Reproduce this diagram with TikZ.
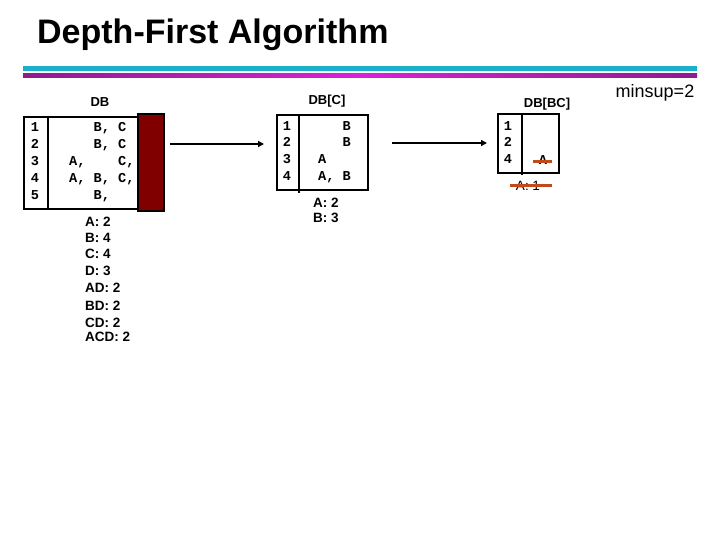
\documentclass[tikz,border=0pt]{standalone}
\usepackage{fontspec}
\setmainfont{Liberation Sans}
\newfontfamily\monob{Liberation Mono}[BoldFont=* Bold]
\usetikzlibrary{arrows.meta}
\definecolor{cyanbar}{HTML}{1CAFCB}
\definecolor{purpbar}{HTML}{8E1C8E}
\definecolor{magbar}{HTML}{D822D8}
\definecolor{darkred}{HTML}{800000}
\definecolor{strike}{HTML}{C24A1A}
\tikzset{
  box/.style={draw=black, line width=1.7pt, anchor=north west, inner sep=0pt},
  mono/.style={font=\monob\bfseries\fontsize{13.6}{14}\selectfont, inner sep=0pt, anchor=base west},
  num/.style={font=\monob\bfseries\fontsize{13.6}{14}\selectfont, inner sep=0pt, anchor=base},
  lbl/.style={font=\bfseries\fontsize{13}{14}\selectfont, inner sep=0pt},
  cnt/.style={font=\bfseries\fontsize{13.5}{14}\selectfont, inner sep=0pt, anchor=west},
  arr/.style={line width=1.8pt, -{Triangle[length=6pt,width=6pt]}},
  strikebar/.style={draw=strike, line width=3pt},
}
\begin{document}
\begin{tikzpicture}[x=1pt,y=-1pt]
\useasboundingbox (0,0) rectangle (720,540);
% title
\node[font=\bfseries\fontsize{34}{34}\selectfont, anchor=base west, inner sep=0pt] (title) at (37,44) {Depth-First Algorithm};
% bars
\fill[cyanbar] (23,66) rectangle (697,71);
\shade[left color=purpbar, right color=purpbar, middle color=magbar] (23,74) rectangle (697,78);
% minsup
\node[font=\fontsize{18}{18}\selectfont, inner sep=0pt] (minsup) at (655,93) {minsup=2};

% ---------- DB ----------
\node[lbl] (dblbl) at (100,102) {DB};
\node[box, minimum width=115pt, minimum height=92pt] (db) at (23,116) {};
\draw[line width=1.7pt] (48,116) -- (48,208);
\node[box, fill=darkred, minimum width=26pt, minimum height=97pt] (red) at (137,113) {};
\foreach \n/\y in {1/132,2/149,3/166,4/183,5/200}
  \node[num] (dbn\n) at (35,\y) {\n};
\node[mono] (dbr1) at (69,132) {\hphantom{A, }B, C};
\node[mono] (dbr2) at (69,149) {\hphantom{A, }B, C};
\node[mono] (dbr3) at (69,166) {A,\hphantom{ B, }C,};
\node[mono] (dbr4) at (69,183) {A, B, C,};
\node[mono] (dbr5) at (69,200) {\hphantom{A, }B,};
\node[cnt] (c1) at (85,222) {A: 2};
\node[cnt] (c2) at (85,238) {B: 4};
\node[cnt] (c3) at (85,254) {C: 4};
\node[cnt] (c4) at (85,271) {D: 3};
\node[cnt] (c5) at (85,288) {AD: 2};
\node[cnt] (c6) at (85,306) {BD: 2};
\node[cnt] (c7) at (85,323) {CD: 2};
\node[cnt] (c8) at (85,337) {ACD: 2};

% ---------- DB[C] ----------
\node[lbl] (dbclbl) at (327,101) {DB[C]};
\node[box, minimum width=91pt, minimum height=75pt] (dbc) at (276,114) {};
\draw[line width=1.7pt] (299,114) -- (299,193);
\foreach \n/\y in {1/131,2/147,3/164,4/181}
  \node[num] (dbcn\n) at (287,\y) {\n};
\node[mono] (dbcr1) at (318,131) {\hphantom{A, }B};
\node[mono] (dbcr2) at (318,147) {\hphantom{A, }B};
\node[mono] (dbcr3) at (318,164) {A};
\node[mono] (dbcr4) at (318,181) {A, B};
\node[cnt] (cc1) at (313,203) {A: 2};
\node[cnt] (cc2) at (313,218) {B: 3};

% ---------- DB[BC] ----------
\node[lbl] (dbbclbl) at (547,104) {DB[BC]};
\node[box, minimum width=61pt, minimum height=59pt] (dbbc) at (497,113) {};
\draw[line width=1.7pt] (522,113) -- (522,175);
\foreach \n/\y in {1/131,2/147,4/164}
  \node[num] (dbbcn\n) at (508,\y) {\n};
\node[num] (dbbca) at (543,165) {A};
\draw[strikebar] (533,162) -- (552,162);
\node[cnt, anchor=center, font=\fontsize{13.5}{14}\selectfont] (cbc1) at (528,186) {A: 1};
\draw[strikebar] (510,185.5) -- (552,185.5);

% ---------- arrows ----------
\coordinate (ay1) at (0,144);
\coordinate (ay2) at (0,143);
\draw[arr, shorten <=5pt, shorten >=12pt] (red.east |- ay1) -- (dbc.west |- ay1);
\draw[arr, shorten <=23pt, shorten >=10pt] (dbc.east |- ay2) -- (dbbc.west |- ay2);
\end{tikzpicture}
\end{document}
